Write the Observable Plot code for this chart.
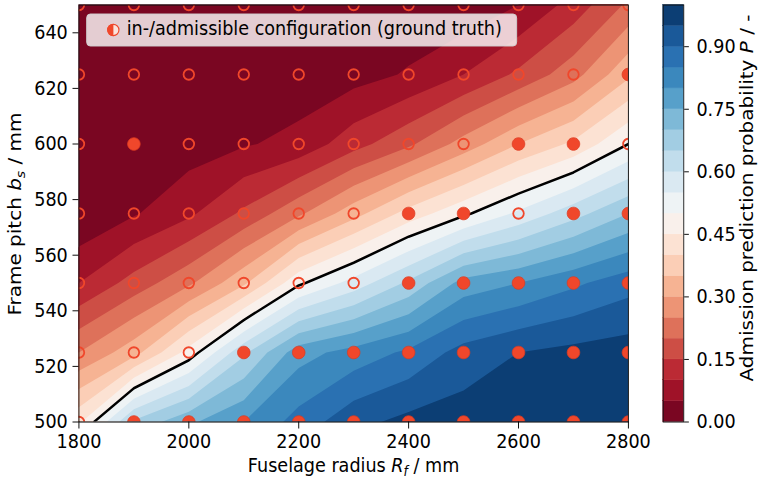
<!DOCTYPE html>
<html><head><meta charset="utf-8">
<script src="https://cdn.jsdelivr.net/npm/d3@7"></script>
<script src="https://cdn.jsdelivr.net/npm/@observablehq/plot@0.6"></script>
<style>
body{margin:0;background:#fff;}
#fig{position:absolute;left:0;top:0;width:863px;height:482px;transform:scale(0.88,1);transform-origin:0 0;}
#fig svg{position:absolute;top:0;overflow:visible;}
</style></head><body><div id="fig"></div>
<script>
// ---- data ----
const radius = [1800,1900,2000,2100,2200,2300,2400,2500,2600,2700,2800]; // Fuselage radius R_f / mm
const pitch  = [500,525,550,575,600,625,650];                             // Frame pitch b_s / mm
// predicted admission probability P per pitch row (columns = radius)
const p500 = [0.44,0.66,0.74,0.80,0.87,0.935,0.965,0.975,0.98,0.98,0.985];
const p525 = [0.25,0.33,0.47,0.64,0.78,0.82,0.86,0.92,0.95,0.965,0.975];
const p550 = [0.10,0.17,0.24,0.34,0.49,0.57,0.66,0.77,0.80,0.84,0.88];
const p575 = [0.005,0.045,0.09,0.16,0.24,0.33,0.42,0.49,0.56,0.63,0.70];
const p600 = [0.00,0.01,0.025,0.045,0.065,0.13,0.19,0.27,0.35,0.41,0.50];
const p625 = [0.00,0.00,0.01,0.015,0.02,0.03,0.055,0.10,0.16,0.23,0.34];
const p650 = [0.00,0.00,0.00,0.00,0.005,0.01,0.015,0.015,0.05,0.12,0.21];
// ground truth: 1 = admissible (filled), 0 = inadmissible (hollow)
const adm500 = [0,1,1,1,1,1,1,1,1,1,1];
const adm525 = [0,0,0,1,1,1,1,1,1,1,1];
const adm550 = [0,0,0,0,0,0,1,1,1,1,1];
const adm575 = [0,0,0,0,0,0,1,1,0,1,1];
const adm600 = [0,1,0,0,0,0,0,0,1,1,0];
const adm625 = [0,0,0,0,0,0,0,0,0,0,1];
const adm650 = [0,0,0,0,0,0,0,0,0,0,0];
const xTicks = [1800,2000,2200,2400,2600,2800];
const yTicks = [500,520,540,560,580,600,620,640];
const cbTicks = [0,0.15,0.30,0.45,0.60,0.75,0.90];
const levels = d3.range(20).map(i => i / 20);
const rdbu = ["#67001f","#b2182b","#d6604d","#f4a582","#fddbc7","#f7f7f7","#d1e5f0","#92c5de","#4393c3","#2166ac","#053061"];

// ---- build ----
const C = 0.88;           // horizontal squeeze of the whole figure
const FONT = "DejaVu Sans";
const FS = 20;
const DOT = "#f0472b";
const fig = document.getElementById("fig");
const grid = [p500,p525,p550,p575,p600,p625,p650].flat();
const adm = [adm500,adm525,adm550,adm575,adm600,adm625,adm650];
const pts = pitch.flatMap((y,j) => radius.map((x,i) => ({x, y, ok: adm[j][i] === 1})));
const colorOpts = {type:"linear", domain:[-0.025, 0.975], interpolate: d3.piecewise(d3.interpolateRgb, rdbu)};
const ext = {x1:1750, x2:2850, y1:487.5, y2:662.5, width:11, height:7};
const style = {fontSize: FS + "px", fontFamily: FONT, background: "transparent", overflow: "visible", color: "#000"};
// round marker after the horizontal squeeze
const roundSym = {
  draw(ctx, size) {
    const r = Math.sqrt(size / Math.PI), rx = r / C, k = 0.5523;
    ctx.moveTo(rx, 0);
    ctx.bezierCurveTo(rx, k * r, k * rx, r, 0, r);
    ctx.bezierCurveTo(-k * rx, r, -rx, k * r, -rx, 0);
    ctx.bezierCurveTo(-rx, -k * r, -k * rx, -r, 0, -r);
    ctx.bezierCurveTo(k * rx, -r, rx, -k * r, rx, 0);
    ctx.closePath();
  }
};

const main = Plot.plot({
  width: 735, height: 482,
  marginLeft: 89.2, marginRight: 21.4, marginTop: 4.5, marginBottom: 60.5,
  style,
  x: {domain:[1800,2800]},
  y: {domain:[500,650]},
  color: colorOpts,
  marks: [
    Plot.contour(grid, {...ext, fill: Plot.identity, thresholds: levels, stroke: "none", clip: true}),
    Plot.contour(grid, {...ext, value: Plot.identity, thresholds: [0.5], fill: "none", stroke: "black", strokeWidth: 2.6, clip: true}),
    Plot.dot(pts.filter(d => d.ok), {x:"x", y:"y", r:6.3, symbol: roundSym, fill: DOT, stroke: "#dc3b22", strokeWidth: 0.8, clip: true}),
    Plot.dot(pts.filter(d => !d.ok), {x:"x", y:"y", r:5.3, symbol: roundSym, fill: "none", stroke: DOT, strokeWidth: 2, clip: true}),
    Plot.frame({stroke: "#111", strokeWidth: 1.1}),
    Plot.axisX({ticks: xTicks, tickFormat: d => String(d), tickSize: 7, tickPadding: 5, label: null}),
    Plot.axisY({ticks: yTicks, tickFormat: d => String(d), tickSize: 6.8, tickPadding: 5.9, label: null})
  ]
});
main.style.left = "0px";
fig.appendChild(main);

const ms = d3.select(main);
// x label
const xl = ms.append("text").attr("x", 401.8).attr("y", 472).attr("text-anchor","middle")
  .attr("font-family", FONT).attr("font-size", FS).attr("fill","#000");
xl.append("tspan").text("Fuselage radius ");
xl.append("tspan").attr("font-style","italic").text("R");
xl.append("tspan").attr("font-style","italic").attr("font-size", FS*0.7).attr("dy", 4).text("f");
xl.append("tspan").attr("dy", -4).text(" / mm");
// y label
const yl = ms.append("text").attr("transform","translate(24,214) rotate(-90)").attr("text-anchor","middle")
  .attr("font-family", FONT).attr("font-size", FS).attr("fill","#000");
yl.append("tspan").text("Frame pitch ");
yl.append("tspan").attr("font-style","italic").text("b");
yl.append("tspan").attr("font-style","italic").attr("font-size", FS*0.7).attr("dy", 4).text("s");
yl.append("tspan").attr("dy", -4).text(" / mm");
// legend
const lg = ms.append("g");
lg.append("rect").attr("x", 98.5).attr("y", 14).attr("width", 488.6).attr("height", 32).attr("rx", 4)
  .attr("fill","#fff").attr("fill-opacity", 0.8).attr("stroke","#d0d0d0").attr("stroke-width", 1);
lg.append("ellipse").attr("cx", 128.8).attr("cy", 30).attr("rx", 5.6 / C).attr("ry", 5.6).attr("fill","#fbe3dc").attr("stroke", DOT).attr("stroke-width", 1.3);
lg.append("path").attr("d", `M128.8,${30-6.2} A${6.2/C},6.2 0 0 0 128.8,${30+6.2} Z`).attr("fill", DOT);
lg.append("text").attr("x", 144).attr("y", 35.5).attr("text-anchor","start").attr("font-family", FONT).attr("font-size", FS).attr("fill","#000")
  .text("in-/admissible configuration (ground truth)");

// colorbar
const bands = levels.map(t => ({lo: t, hi: t + 0.05}));
const cb = Plot.plot({
  width: 127.5, height: 482,
  marginLeft: 18.1, marginRight: 86, marginTop: 4.5, marginBottom: 60.5,
  style,
  x: {domain:[0,1], axis: null},
  y: {domain:[0,1]},
  color: colorOpts,
  marks: [
    Plot.rect(bands, {x1: 0, x2: 1, y1: "lo", y2: "hi", fill: "lo", stroke: "lo", strokeWidth: 0.4}),
    Plot.frame({stroke: "#111", strokeWidth: 1}),
    Plot.axisY({anchor: "right", ticks: cbTicks, tickFormat: d3.format(".2f"), tickSize: 5.3, tickPadding: 9.1, label: null})
  ]
});
cb.style.left = "735px";
fig.appendChild(cb);
const cl = d3.select(cb).append("text").attr("transform","translate(121,198) rotate(-90)").attr("text-anchor","middle")
  .attr("font-family", FONT).attr("font-size", FS).attr("fill","#000");
cl.append("tspan").text("Admission prediction probability ");
cl.append("tspan").attr("font-style","italic").text("P");
cl.append("tspan").text(" / -");
</script></body></html>
